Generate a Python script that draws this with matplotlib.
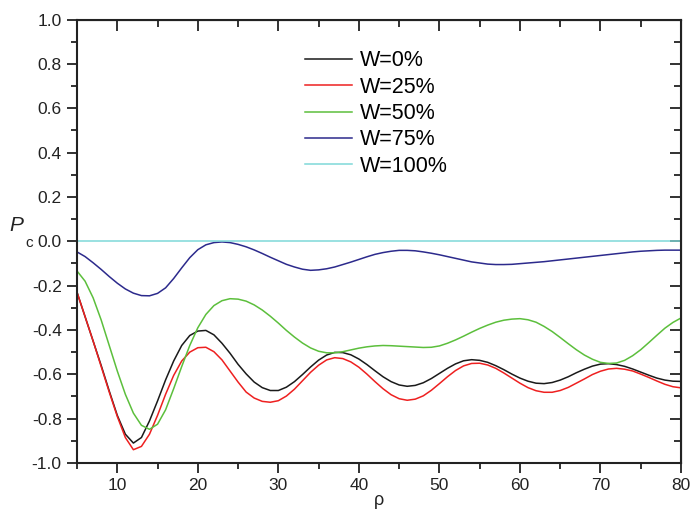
import numpy as np
import matplotlib
matplotlib.use("Agg")
import matplotlib.pyplot as plt
from matplotlib.ticker import MultipleLocator, FormatStrFormatter

plt.rcParams["font.family"] = ["Liberation Sans", "DejaVu Sans"]

# ── data (rho = 5 ... 80, step 1) ────────────────────────────────────────────
rho = np.arange(5, 81)

pc_w0 = [
    -0.23, -0.34, -0.45, -0.56, -0.675, -0.785, -0.87, -0.91, -0.885, -0.81,
    -0.72, -0.625, -0.54, -0.47, -0.425, -0.405, -0.402, -0.422, -0.46, -0.505,
    -0.555, -0.598, -0.635, -0.66, -0.673, -0.673, -0.658, -0.633, -0.601, -0.567,
    -0.536, -0.513, -0.501, -0.502, -0.512, -0.531, -0.556, -0.584, -0.611, -0.633,
    -0.648, -0.654, -0.650, -0.638, -0.619, -0.596, -0.573, -0.553, -0.539, -0.534,
    -0.537, -0.546, -0.561, -0.579, -0.599, -0.617, -0.631, -0.640, -0.642, -0.637,
    -0.626, -0.611, -0.593, -0.577, -0.563, -0.554, -0.552, -0.556, -0.564, -0.576,
    -0.590, -0.604, -0.617, -0.626, -0.631, -0.632,
]

pc_w25 = [
    -0.23, -0.34, -0.45, -0.565, -0.68, -0.79, -0.885, -0.94, -0.925, -0.87,
    -0.785, -0.69, -0.605, -0.54, -0.50, -0.48, -0.478, -0.498, -0.535, -0.585,
    -0.635, -0.68, -0.707, -0.722, -0.726, -0.719, -0.698, -0.667, -0.629, -0.591,
    -0.559, -0.535, -0.525, -0.529, -0.544, -0.568, -0.599, -0.633, -0.665, -0.692,
    -0.710, -0.717, -0.712, -0.697, -0.672, -0.642, -0.611, -0.583, -0.562, -0.551,
    -0.550, -0.558, -0.573, -0.594, -0.617, -0.640, -0.660, -0.674, -0.681, -0.681,
    -0.673, -0.659, -0.640, -0.621, -0.601, -0.586, -0.576, -0.573, -0.577, -0.585,
    -0.599, -0.614, -0.630, -0.645, -0.656, -0.661,
]

pc_w50 = [
    -0.134, -0.18, -0.255, -0.355, -0.47, -0.585, -0.69, -0.775, -0.83, -0.848,
    -0.825, -0.76, -0.665, -0.565, -0.47, -0.39, -0.33, -0.29, -0.268, -0.259,
    -0.261, -0.270, -0.287, -0.310, -0.338, -0.369, -0.402, -0.432, -0.459, -0.481,
    -0.496, -0.503, -0.503, -0.498, -0.49, -0.482, -0.476, -0.472, -0.470, -0.471,
    -0.473, -0.475, -0.477, -0.479, -0.478, -0.472, -0.46, -0.445, -0.428, -0.41,
    -0.393, -0.378, -0.365, -0.356, -0.351, -0.349, -0.354, -0.365, -0.384, -0.407,
    -0.434, -0.462, -0.489, -0.513, -0.532, -0.546, -0.551, -0.549, -0.537, -0.516,
    -0.489, -0.457, -0.424, -0.392, -0.366, -0.346,
]

pc_w75 = [
    -0.048, -0.069, -0.097, -0.127, -0.159, -0.189, -0.215, -0.234, -0.245, -0.246,
    -0.235, -0.21, -0.168, -0.12, -0.074, -0.038, -0.016, -0.006, -0.003, -0.006,
    -0.014, -0.025, -0.039, -0.055, -0.072, -0.088, -0.104, -0.116, -0.126, -0.131,
    -0.129, -0.124, -0.116, -0.105, -0.094, -0.082, -0.070, -0.059, -0.051, -0.045,
    -0.041, -0.041, -0.043, -0.048, -0.054, -0.061, -0.069, -0.077, -0.085, -0.093,
    -0.098, -0.103, -0.105, -0.105, -0.104, -0.101, -0.098, -0.095, -0.092, -0.088,
    -0.084, -0.080, -0.076, -0.072, -0.068, -0.064, -0.060, -0.056, -0.052, -0.048,
    -0.045, -0.043, -0.041, -0.040, -0.040, -0.040,
]

pc_w100 = [0.0] * len(rho)

labels = ["W=0%", "W=25%", "W=50%", "W=75%", "W=100%"]
colors = ["#1a1a1a", "#ee2020", "#5cbf3c", "#2c2a8c", "#7fd8d8"]

# ── plot ──────────────────────────────────────────────────────────────────────
fig = plt.figure(figsize=(6.92, 5.11), dpi=100)
ax = fig.add_axes([0.1113, 0.0939, 0.8728, 0.8679])

for y, lab, col in zip([pc_w0, pc_w25, pc_w50, pc_w75, pc_w100], labels, colors):
    ax.plot(rho, y, color=col, linewidth=1.1, label=lab,
            solid_joinstyle="round")

ax.set_xlim(5, 80)
ax.set_ylim(-1.0, 1.0)
ax.xaxis.set_major_locator(MultipleLocator(10))
ax.xaxis.set_minor_locator(MultipleLocator(5))
ax.yaxis.set_major_locator(MultipleLocator(0.2))
ax.yaxis.set_minor_locator(MultipleLocator(0.1))
ax.yaxis.set_major_formatter(FormatStrFormatter("%.1f"))

for s in ax.spines.values():
    s.set_linewidth(1.5)
    s.set_color("#222222")

ax.tick_params(which="both", direction="out", width=1.3, color="#222222",
               labelsize=12.5, labelcolor="#222222")
ax.tick_params(which="major", length=7, pad=4)
ax.tick_params(which="minor", length=4)

# inward ticks on top and right
top = ax.secondary_xaxis("top")
top.xaxis.set_major_locator(MultipleLocator(10))
top.xaxis.set_minor_locator(MultipleLocator(5))
top.tick_params(which="both", direction="in", width=1.3, color="#222222",
                labeltop=False)
top.tick_params(which="major", length=8)
top.tick_params(which="minor", length=5)
right = ax.secondary_yaxis("right")
right.yaxis.set_major_locator(MultipleLocator(0.2))
right.yaxis.set_minor_locator(MultipleLocator(0.1))
right.tick_params(which="both", direction="in", width=1.3, color="#222222",
                  labelright=False)
right.tick_params(which="major", length=8)
right.tick_params(which="minor", length=5)

ax.set_xlabel("ρ", fontsize=13, labelpad=-1, color="#222222")
fig.text(0.013, 0.548, "P", fontsize=15, color="#222222", style="italic")
fig.text(0.036, 0.517, "c", fontsize=11, color="#222222")

ax.legend(loc="upper left", bbox_to_anchor=(0.363, 0.95), frameon=False,
          fontsize=15.5, handlelength=2.2, handletextpad=0.35,
          labelspacing=0.25, borderaxespad=0)

fig.savefig("out.png", dpi=100)
